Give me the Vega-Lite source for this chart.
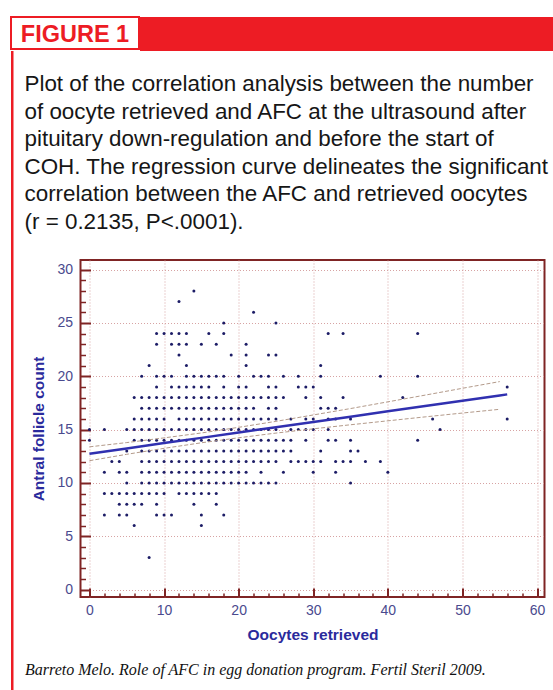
{
  "$schema": "https://vega.github.io/schema/vega-lite/v6.json",
  "background": "white",
  "padding": {"left": 10, "top": 16, "right": 0, "bottom": 0},
  "config": {
    "view": {"stroke": null},
    "concat": {"spacing": 0},
    "font": "Liberation Sans"
  },
  "datasets": {
    "points": [
      {"oocytes":14,"afc":28},
      {"oocytes":12,"afc":27},
      {"oocytes":22,"afc":26},
      {"oocytes":18,"afc":25},{"oocytes":25,"afc":25},
      {"oocytes":9,"afc":24},{"oocytes":10,"afc":24},{"oocytes":11,"afc":24},{"oocytes":12,"afc":24},{"oocytes":13,"afc":24},{"oocytes":16,"afc":24},{"oocytes":18,"afc":24},{"oocytes":32,"afc":24},{"oocytes":34,"afc":24},{"oocytes":44,"afc":24},
      {"oocytes":9,"afc":23},{"oocytes":11,"afc":23},{"oocytes":12,"afc":23},{"oocytes":13,"afc":23},{"oocytes":15,"afc":23},{"oocytes":17,"afc":23},{"oocytes":21,"afc":23},
      {"oocytes":12,"afc":22},{"oocytes":19,"afc":22},{"oocytes":21,"afc":22},{"oocytes":24,"afc":22},{"oocytes":25,"afc":22},
      {"oocytes":8,"afc":21},{"oocytes":13,"afc":21},{"oocytes":21,"afc":21},{"oocytes":31,"afc":21},
      {"oocytes":7,"afc":20},{"oocytes":9,"afc":20},{"oocytes":10,"afc":20},{"oocytes":11,"afc":20},{"oocytes":13,"afc":20},{"oocytes":14,"afc":20},{"oocytes":15,"afc":20},{"oocytes":16,"afc":20},{"oocytes":17,"afc":20},{"oocytes":18,"afc":20},{"oocytes":20,"afc":20},{"oocytes":22,"afc":20},{"oocytes":23,"afc":20},{"oocytes":24,"afc":20},{"oocytes":26,"afc":20},{"oocytes":28,"afc":20},{"oocytes":31,"afc":20},{"oocytes":39,"afc":20},{"oocytes":44,"afc":20},
      {"oocytes":9,"afc":19},{"oocytes":11,"afc":19},{"oocytes":12,"afc":19},{"oocytes":13,"afc":19},{"oocytes":14,"afc":19},{"oocytes":15,"afc":19},{"oocytes":16,"afc":19},{"oocytes":18,"afc":19},{"oocytes":20,"afc":19},{"oocytes":21,"afc":19},{"oocytes":24,"afc":19},{"oocytes":25,"afc":19},{"oocytes":28,"afc":19},{"oocytes":29,"afc":19},{"oocytes":30,"afc":19},{"oocytes":56,"afc":19},
      {"oocytes":6,"afc":18},{"oocytes":7,"afc":18},{"oocytes":8,"afc":18},{"oocytes":9,"afc":18},{"oocytes":10,"afc":18},{"oocytes":11,"afc":18},{"oocytes":12,"afc":18},{"oocytes":13,"afc":18},{"oocytes":14,"afc":18},{"oocytes":15,"afc":18},{"oocytes":16,"afc":18},{"oocytes":17,"afc":18},{"oocytes":18,"afc":18},{"oocytes":19,"afc":18},{"oocytes":20,"afc":18},{"oocytes":21,"afc":18},{"oocytes":22,"afc":18},{"oocytes":23,"afc":18},{"oocytes":24,"afc":18},{"oocytes":25,"afc":18},{"oocytes":26,"afc":18},{"oocytes":29,"afc":18},{"oocytes":31,"afc":18},{"oocytes":34,"afc":18},{"oocytes":42,"afc":18},
      {"oocytes":7,"afc":17},{"oocytes":8,"afc":17},{"oocytes":9,"afc":17},{"oocytes":10,"afc":17},{"oocytes":11,"afc":17},{"oocytes":12,"afc":17},{"oocytes":13,"afc":17},{"oocytes":14,"afc":17},{"oocytes":15,"afc":17},{"oocytes":16,"afc":17},{"oocytes":17,"afc":17},{"oocytes":18,"afc":17},{"oocytes":19,"afc":17},{"oocytes":20,"afc":17},{"oocytes":21,"afc":17},{"oocytes":22,"afc":17},{"oocytes":24,"afc":17},{"oocytes":25,"afc":17},{"oocytes":31,"afc":17},{"oocytes":32,"afc":17},{"oocytes":33,"afc":17},
      {"oocytes":6,"afc":16},{"oocytes":7,"afc":16},{"oocytes":8,"afc":16},{"oocytes":9,"afc":16},{"oocytes":10,"afc":16},{"oocytes":12,"afc":16},{"oocytes":13,"afc":16},{"oocytes":14,"afc":16},{"oocytes":15,"afc":16},{"oocytes":16,"afc":16},{"oocytes":17,"afc":16},{"oocytes":18,"afc":16},{"oocytes":19,"afc":16},{"oocytes":20,"afc":16},{"oocytes":21,"afc":16},{"oocytes":22,"afc":16},{"oocytes":23,"afc":16},{"oocytes":24,"afc":16},{"oocytes":25,"afc":16},{"oocytes":27,"afc":16},{"oocytes":29,"afc":16},{"oocytes":30,"afc":16},{"oocytes":32,"afc":16},{"oocytes":33,"afc":16},{"oocytes":35,"afc":16},{"oocytes":46,"afc":16},{"oocytes":56,"afc":16},
      {"oocytes":0,"afc":15},{"oocytes":2,"afc":15},{"oocytes":5,"afc":15},{"oocytes":6,"afc":15},{"oocytes":7,"afc":15},{"oocytes":8,"afc":15},{"oocytes":9,"afc":15},{"oocytes":10,"afc":15},{"oocytes":11,"afc":15},{"oocytes":12,"afc":15},{"oocytes":13,"afc":15},{"oocytes":14,"afc":15},{"oocytes":15,"afc":15},{"oocytes":16,"afc":15},{"oocytes":17,"afc":15},{"oocytes":18,"afc":15},{"oocytes":19,"afc":15},{"oocytes":20,"afc":15},{"oocytes":21,"afc":15},{"oocytes":22,"afc":15},{"oocytes":23,"afc":15},{"oocytes":24,"afc":15},{"oocytes":25,"afc":15},{"oocytes":27,"afc":15},{"oocytes":28,"afc":15},{"oocytes":29,"afc":15},{"oocytes":30,"afc":15},{"oocytes":32,"afc":15},{"oocytes":47,"afc":15},
      {"oocytes":0,"afc":14},{"oocytes":6,"afc":14},{"oocytes":7,"afc":14},{"oocytes":8,"afc":14},{"oocytes":9,"afc":14},{"oocytes":10,"afc":14},{"oocytes":11,"afc":14},{"oocytes":12,"afc":14},{"oocytes":13,"afc":14},{"oocytes":14,"afc":14},{"oocytes":15,"afc":14},{"oocytes":16,"afc":14},{"oocytes":17,"afc":14},{"oocytes":18,"afc":14},{"oocytes":19,"afc":14},{"oocytes":20,"afc":14},{"oocytes":21,"afc":14},{"oocytes":22,"afc":14},{"oocytes":23,"afc":14},{"oocytes":24,"afc":14},{"oocytes":25,"afc":14},{"oocytes":26,"afc":14},{"oocytes":27,"afc":14},{"oocytes":29,"afc":14},{"oocytes":32,"afc":14},{"oocytes":33,"afc":14},{"oocytes":35,"afc":14},{"oocytes":44,"afc":14},
      {"oocytes":5,"afc":13},{"oocytes":7,"afc":13},{"oocytes":8,"afc":13},{"oocytes":9,"afc":13},{"oocytes":10,"afc":13},{"oocytes":11,"afc":13},{"oocytes":12,"afc":13},{"oocytes":13,"afc":13},{"oocytes":14,"afc":13},{"oocytes":15,"afc":13},{"oocytes":16,"afc":13},{"oocytes":17,"afc":13},{"oocytes":18,"afc":13},{"oocytes":19,"afc":13},{"oocytes":20,"afc":13},{"oocytes":21,"afc":13},{"oocytes":22,"afc":13},{"oocytes":23,"afc":13},{"oocytes":24,"afc":13},{"oocytes":25,"afc":13},{"oocytes":26,"afc":13},{"oocytes":27,"afc":13},{"oocytes":31,"afc":13},{"oocytes":35,"afc":13},{"oocytes":36,"afc":13},
      {"oocytes":3,"afc":12},{"oocytes":4,"afc":12},{"oocytes":7,"afc":12},{"oocytes":8,"afc":12},{"oocytes":9,"afc":12},{"oocytes":10,"afc":12},{"oocytes":11,"afc":12},{"oocytes":12,"afc":12},{"oocytes":13,"afc":12},{"oocytes":14,"afc":12},{"oocytes":15,"afc":12},{"oocytes":16,"afc":12},{"oocytes":17,"afc":12},{"oocytes":18,"afc":12},{"oocytes":19,"afc":12},{"oocytes":20,"afc":12},{"oocytes":21,"afc":12},{"oocytes":22,"afc":12},{"oocytes":23,"afc":12},{"oocytes":24,"afc":12},{"oocytes":25,"afc":12},{"oocytes":27,"afc":12},{"oocytes":28,"afc":12},{"oocytes":29,"afc":12},{"oocytes":30,"afc":12},{"oocytes":31,"afc":12},{"oocytes":33,"afc":12},{"oocytes":34,"afc":12},{"oocytes":35,"afc":12},{"oocytes":37,"afc":12},{"oocytes":39,"afc":12},
      {"oocytes":2,"afc":11},{"oocytes":4,"afc":11},{"oocytes":5,"afc":11},{"oocytes":7,"afc":11},{"oocytes":8,"afc":11},{"oocytes":9,"afc":11},{"oocytes":10,"afc":11},{"oocytes":11,"afc":11},{"oocytes":12,"afc":11},{"oocytes":13,"afc":11},{"oocytes":14,"afc":11},{"oocytes":15,"afc":11},{"oocytes":16,"afc":11},{"oocytes":17,"afc":11},{"oocytes":18,"afc":11},{"oocytes":19,"afc":11},{"oocytes":20,"afc":11},{"oocytes":21,"afc":11},{"oocytes":23,"afc":11},{"oocytes":26,"afc":11},{"oocytes":30,"afc":11},{"oocytes":33,"afc":11},{"oocytes":40,"afc":11},
      {"oocytes":5,"afc":10},{"oocytes":7,"afc":10},{"oocytes":8,"afc":10},{"oocytes":9,"afc":10},{"oocytes":10,"afc":10},{"oocytes":11,"afc":10},{"oocytes":12,"afc":10},{"oocytes":13,"afc":10},{"oocytes":14,"afc":10},{"oocytes":15,"afc":10},{"oocytes":16,"afc":10},{"oocytes":17,"afc":10},{"oocytes":18,"afc":10},{"oocytes":19,"afc":10},{"oocytes":20,"afc":10},{"oocytes":21,"afc":10},{"oocytes":22,"afc":10},{"oocytes":23,"afc":10},{"oocytes":24,"afc":10},{"oocytes":25,"afc":10},{"oocytes":35,"afc":10},
      {"oocytes":2,"afc":9},{"oocytes":3,"afc":9},{"oocytes":4,"afc":9},{"oocytes":5,"afc":9},{"oocytes":6,"afc":9},{"oocytes":7,"afc":9},{"oocytes":8,"afc":9},{"oocytes":9,"afc":9},{"oocytes":10,"afc":9},{"oocytes":12,"afc":9},{"oocytes":13,"afc":9},{"oocytes":14,"afc":9},{"oocytes":15,"afc":9},{"oocytes":16,"afc":9},{"oocytes":17,"afc":9},
      {"oocytes":4,"afc":8},{"oocytes":5,"afc":8},{"oocytes":6,"afc":8},{"oocytes":7,"afc":8},{"oocytes":9,"afc":8},{"oocytes":14,"afc":8},{"oocytes":17,"afc":8},
      {"oocytes":2,"afc":7},{"oocytes":4,"afc":7},{"oocytes":5,"afc":7},{"oocytes":9,"afc":7},{"oocytes":10,"afc":7},{"oocytes":11,"afc":7},{"oocytes":15,"afc":7},{"oocytes":18,"afc":7},
      {"oocytes":6,"afc":6},{"oocytes":15,"afc":6},
      {"oocytes":8,"afc":3}
    ],
    "fit": [
      {"oocytes":0,"fit":12.73,"lower":12.08,"upper":13.38},
      {"oocytes":5,"fit":13.23,"lower":12.68,"upper":13.78},
      {"oocytes":10,"fit":13.73,"lower":13.24,"upper":14.22},
      {"oocytes":15,"fit":14.22,"lower":13.76,"upper":14.68},
      {"oocytes":20,"fit":14.72,"lower":14.23,"upper":15.21},
      {"oocytes":25,"fit":15.22,"lower":14.67,"upper":15.77},
      {"oocytes":30,"fit":15.72,"lower":15.07,"upper":16.37},
      {"oocytes":35,"fit":16.21,"lower":15.45,"upper":16.97},
      {"oocytes":40,"fit":16.71,"lower":15.82,"upper":17.6},
      {"oocytes":45,"fit":17.21,"lower":16.19,"upper":18.23},
      {"oocytes":50,"fit":17.71,"lower":16.55,"upper":18.87},
      {"oocytes":55,"fit":18.2,"lower":16.9,"upper":19.5},
      {"oocytes":56,"fit":18.3,"lower":null,"upper":null}
    ]
  },
  "vconcat": [
    {
      "hconcat": [
        {
          "width": 128, "height": 32,
          "view": {"fill": "white", "stroke": "#ed1c24", "strokeWidth": 2},
          "data": {"values": [{"label": "FIGURE 1"}]},
          "mark": {"type": "text", "font": "Liberation Sans", "fontWeight": "bold", "fontSize": 23.5, "color": "#ed1c24", "align": "center", "baseline": "middle", "dy": 1.5},
          "encoding": {"text": {"field": "label"}}
        },
        {
          "width": 413, "height": 34,
          "view": {"fill": "#ed1c24", "stroke": null},
          "data": {"values": [{}]},
          "mark": {"type": "text", "text": ""}
        }
      ]
    },
    {
      "hconcat": [
        {
          "width": 2.5, "height": 640,
          "view": {"fill": "#ed1c24", "stroke": null},
          "data": {"values": [{}]},
          "mark": {"type": "text", "text": ""}
        },
        {
          "vconcat": [
            {
              "width": 1, "height": 21,
              "data": {"values": [{}]},
              "mark": {"type": "text", "text": ""}
            },
            {
              "width": 464, "height": 337,
              "view": {"stroke": "#7f2424", "strokeWidth": 2},
              "title": {
                "text": [
                  "Plot of the correlation analysis between the number",
                  "of oocyte retrieved and AFC at the ultrasound after",
                  "pituitary down-regulation and before the start of",
                  "COH. The regression curve delineates the significant",
                  "correlation between the AFC and retrieved oocytes",
                  "(r = 0.2135, P<.0001)."
                ],
                "anchor": "start", "frame": "group", "dx": -56,
                "baseline": "bottom",
                "font": "Liberation Sans", "fontSize": 22.4, "fontWeight": "normal",
                "color": "#161616", "lineHeight": 27.5, "offset": 4
              },
              "resolve": {"axis": {"x": "independent", "y": "independent"}},
              "layer": [
                {
                  "data": {"name": "points"},
                  "mark": {"type": "circle", "size": 9, "color": "#1c1c66", "opacity": 1},
                  "encoding": {
                    "x": {
                      "field": "oocytes", "type": "quantitative",
                      "scale": {"domain": [-1.2, 61], "nice": false, "zero": false},
                      "axis": {
                        "orient": "bottom",
                        "title": "Oocytes retrieved",
                        "values": [0,10,20,30,40,50,60],
                        "domain": false,
                        "grid": true, "gridColor": "#d7a3a3", "gridDash": [1, 2], "gridWidth": 1,
                        "ticks": true, "tickColor": "#7f2424", "tickWidth": 2, "tickSize": -9,
                        "labelPadding": 15, "labelFlush": false, "labelOverlap": false,
                        "labelFont": "Liberation Sans", "labelFontSize": 14, "labelColor": "#4a4a8e",
                        "titleFont": "Liberation Sans", "titleFontSize": 15.5, "titleFontWeight": "bold",
                        "titleColor": "#2a2a9c", "titlePadding": 10
                      }
                    },
                    "y": {
                      "field": "afc", "type": "quantitative",
                      "scale": {"domain": [-0.7, 30.9], "nice": false, "zero": false},
                      "axis": {
                        "orient": "left",
                        "title": "Antral follicle count",
                        "values": [0,5,10,15,20,25,30],
                        "domain": false,
                        "grid": true, "gridColor": "#d7a3a3", "gridDash": [1, 2], "gridWidth": 1,
                        "ticks": true, "tickColor": "#7f2424", "tickWidth": 2, "tickSize": -10,
                        "labelPadding": 18, "labelFlush": false, "labelOverlap": false,
                        "labelFont": "Liberation Sans", "labelFontSize": 14, "labelColor": "#4a4a8e",
                        "titleFont": "Liberation Sans", "titleFontSize": 15.5, "titleFontWeight": "bold",
                        "titleColor": "#2a2a9c", "titlePadding": 10
                      }
                    }
                  }
                },
                {
                  "data": {"name": "fit"},
                  "mark": {"type": "line", "color": "#b39a8a", "strokeWidth": 1, "strokeDash": [4, 2]},
                  "encoding": {
                    "x": {
                      "field": "oocytes", "type": "quantitative",
                      "axis": {
                        "orient": "top", "offset": -337, "title": null,
                        "values": [2,4,6,8,12,14,16,18,22,24,26,28,32,34,36,38,42,44,46,48,52,54,56,58],
                        "domain": false, "grid": false, "labels": false,
                        "ticks": true, "tickColor": "#7f2424", "tickWidth": 1.5, "tickSize": 4
                      }
                    },
                    "y": {
                      "field": "upper", "type": "quantitative",
                      "axis": {
                        "orient": "right", "offset": -464, "title": null,
                        "values": [1,2,3,4,6,7,8,9,11,12,13,14,16,17,18,19,21,22,23,24,26,27,28,29],
                        "domain": false, "grid": false, "labels": false,
                        "ticks": true, "tickColor": "#7f2424", "tickWidth": 1.5, "tickSize": 5
                      }
                    }
                  }
                },
                {
                  "data": {"name": "fit"},
                  "mark": {"type": "line", "color": "#b39a8a", "strokeWidth": 1, "strokeDash": [4, 2]},
                  "encoding": {
                    "x": {"field": "oocytes", "type": "quantitative", "axis": null},
                    "y": {"field": "lower", "type": "quantitative", "axis": null}
                  }
                },
                {
                  "data": {"name": "fit"},
                  "mark": {"type": "line", "color": "#3030b0", "strokeWidth": 2.5},
                  "encoding": {
                    "x": {"field": "oocytes", "type": "quantitative", "axis": null},
                    "y": {"field": "fit", "type": "quantitative", "axis": null}
                  }
                }
              ]
            },
            {
              "width": 1, "height": 36,
              "data": {"values": [{"note": "Barreto Melo. Role of AFC in egg donation program. Fertil Steril 2009."}]},
              "mark": {"type": "text", "font": "Liberation Serif", "fontStyle": "italic", "fontSize": 16, "color": "#111111", "align": "left", "baseline": "top", "dx": -56},
              "encoding": {"text": {"field": "note"}}
            }
          ]
        }
      ],
      "spacing": 9.5
    }
  ]
}
